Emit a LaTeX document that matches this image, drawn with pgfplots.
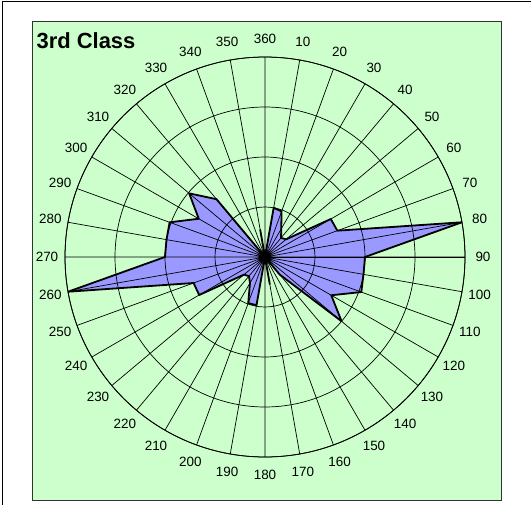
\documentclass[border=0pt]{standalone}
\usepackage{pgfplots}
\pgfplotsset{compat=1.18}
\usepgfplotslibrary{polar}
\usepackage{pgfplotstable}
\usepackage{fontspec}
\setmainfont{Liberation Sans}
\definecolor{bggreen}{HTML}{CCFFCC}
\definecolor{radarfill}{HTML}{9999FF}
\pgfplotstableread{
dir val
10 1.00
20 0.97
30 0.65
40 0.50
50 0.55
60 1.52
70 1.54
80 4.00
90 2.00
100 2.00
110 2.05
120 1.53
130 2.00
140 0.46
150 0.00
160 0.00
170 0.55
180 0.00
190 0.98
200 0.98
210 0.60
220 0.50
230 0.55
240 1.52
250 1.52
260 4.00
270 2.00
280 2.00
290 2.03
300 1.53
310 1.98
320 1.51
330 0.00
340 0.00
350 0.55
360 0.00
}\dirdata
\begin{document}
\begin{tikzpicture}
\useasboundingbox (-265bp,-248bp) rectangle (266bp,257bp);
\clip (-265bp,-248bp) rectangle (266bp,257bp);
\fill[white] (-265bp,-248bp) rectangle (266bp,257bp);
\draw[line width=1.5bp] (-262.3bp,-260bp) -- (-262.3bp,255.3bp) -- (280bp,255.3bp);
\draw[fill=bggreen, draw=black!80, line width=1bp] (-232.7bp,-243bp) rectangle (236.5bp,235.3bp);
\node[anchor=base west, inner sep=0pt, font=\fontsize{22}{24}\selectfont\bfseries] at (-228.5bp,208.7bp) {3rd Class};
\begin{polaraxis}[
  at={(0,0)}, anchor=origin,
  scale only axis, width=400bp, height=400bp,
  ymin=0, ymax=4, ytick={1,2,3,4}, yticklabels={},
  xtick={0,10,...,350},
  xticklabels={90,80,70,60,50,40,30,20,10,360,350,340,330,320,310,300,290,280,270,260,250,240,230,220,210,200,190,180,170,160,150,140,130,120,110,100},
  grid=major, major grid style={black, line width=0.7bp},
  axis line style={black, line width=0.8bp},
  major tick length=0pt,
  axis on top,
  xticklabel style={font=\fontsize{13.5}{15}\selectfont, inner sep=0pt, anchor=center,
    xshift={18bp*cos(\tick)}, yshift={18bp*sin(\tick)}},
]
\addplot[fill=radarfill, draw=black, line width=1.8bp, line join=round] table[x expr={mod(450-\thisrow{dir},360)}, y=val] {\dirdata} -- cycle;
\end{polaraxis}
\end{tikzpicture}
\end{document}
